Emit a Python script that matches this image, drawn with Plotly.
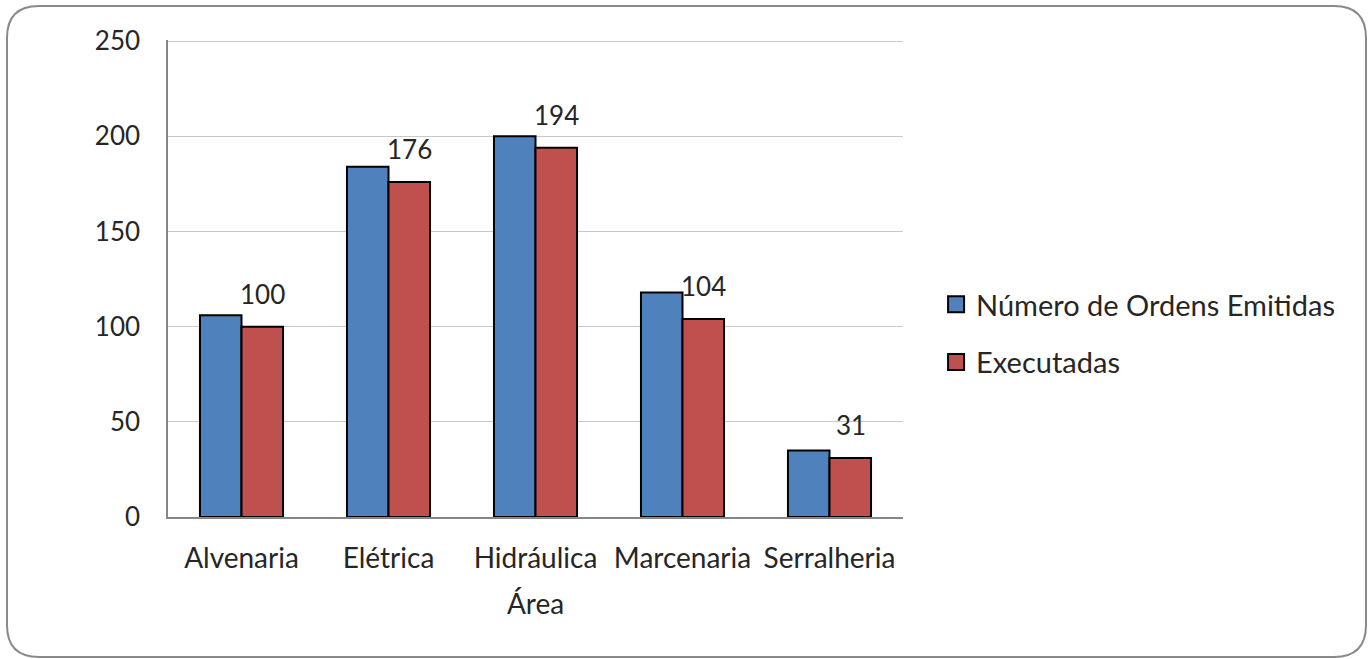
import plotly.graph_objects as go

categories = ["Alvenaria", "Elétrica", "Hidráulica", "Marcenaria", "Serralheria"]
emitidas = [106, 184, 200, 118, 35]
executadas = [100, 176, 194, 104, 31]
series_names = ["Número de Ordens Emitidas", "Executadas"]
y_ticks = [0, 50, 100, 150, 200, 250]
x_title = "Área"

FONT = "Lato"
TXT = "#262626"
BLUE, RED = "#4F81BD", "#C0504D"
W, H = 1370, 659
L, R, T, B = 168, 467, 40, 142
PW, PH = W - L - R, H - T - B


def px2paper(px, py):
    return (px - L) / PW, (H - B - py) / PH


fig = go.Figure()
fig.add_trace(go.Bar(
    x=categories, y=emitidas, name=series_names[0], showlegend=False,
    marker=dict(color=BLUE, line=dict(color="black", width=2)),
))
fig.add_trace(go.Bar(
    x=categories, y=executadas, name=series_names[1], showlegend=False,
    marker=dict(color=RED, line=dict(color="black", width=2)),
))
# legend entries with larger square keys
for nm, col, grp in [(series_names[0], BLUE, "a"), (series_names[1], RED, "b")]:
    fig.add_trace(go.Scatter(
        x=[None], y=[None], mode="markers", name=nm, legendgroup=grp,
        marker=dict(symbol="square", size=16, color=col, line=dict(color="black", width=2)),
    ))

for c, v in zip(categories, executadas):
    fig.add_annotation(x=c, y=v, xref="x", yref="y", text=str(v), showarrow=False,
                       xshift=21, yshift=15, yanchor="bottom",
                       font=dict(family=FONT, size=26, color=TXT))

# rounded outer border
x0, y0, x1, y1, r = 7, 6, 1366, 657, 32
def P(a, b):
    xx, yy = px2paper(a, b)
    return f"{xx:.5f},{yy:.5f}"
path = (f"M {P(x0+r, y0)} L {P(x1-r, y0)} Q {P(x1, y0)} {P(x1, y0+r)} "
        f"L {P(x1, y1-r)} Q {P(x1, y1)} {P(x1-r, y1)} "
        f"L {P(x0+r, y1)} Q {P(x0, y1)} {P(x0, y1-r)} "
        f"L {P(x0, y0+r)} Q {P(x0, y0)} {P(x0+r, y0)} Z")
fig.add_shape(type="path", path=path, xref="paper", yref="paper",
              line=dict(color="#8a8a8a", width=2), layer="below")

fig.update_layout(
    width=W, height=H,
    margin=dict(l=L, r=R, t=T, b=B, pad=0),
    paper_bgcolor="white", plot_bgcolor="white",
    barmode="group", bargap=0.435, bargroupgap=0,
    font=dict(family=FONT, size=26, color=TXT),
    showlegend=True,
    legend=dict(x=1.045, y=0.385, xanchor="left", yanchor="middle",
                tracegroupgap=17, font=dict(family=FONT, size=29, color=TXT),
                itemwidth=30, bgcolor="rgba(0,0,0,0)"),
    xaxis=dict(showline=True, linecolor="#868686", linewidth=1.5,
               ticks="", ticklabelstandoff=16,
               title=dict(text=x_title, standoff=21, font=dict(family=FONT, size=28, color=TXT)),
               tickfont=dict(family=FONT, size=28, color=TXT)),
    yaxis=dict(range=[0, 250.6], tickvals=y_ticks, showline=True, linecolor="#868686", linewidth=1.5,
               showgrid=True, gridcolor="#c8c8c8", gridwidth=1.2, ticks="",
               ticklabelstandoff=21, zeroline=False,
               tickfont=dict(family=FONT, size=26, color=TXT)),
)

fig.write_html("out.html", config={"displayModeBar": False},
               post_script="document.body.style.margin='0px';")
